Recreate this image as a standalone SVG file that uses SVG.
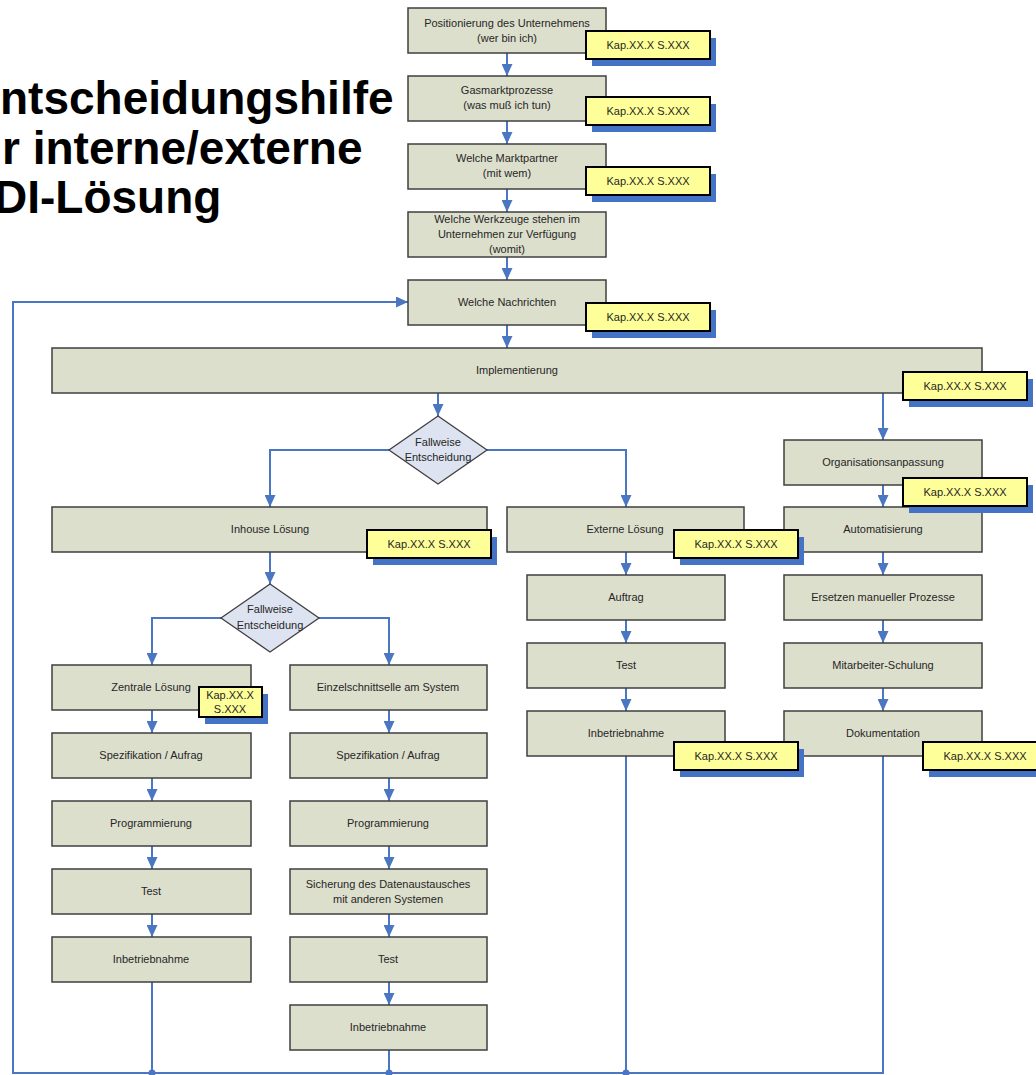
<svg xmlns="http://www.w3.org/2000/svg" width="1036" height="1075" viewBox="0 0 1036 1075">
  <style>
    .box { fill: #dddfcd; stroke: #3f3f3f; stroke-width: 1.5; }
    .dia { fill: #dde3f0; stroke: #3f3f3f; stroke-width: 1.3; }
    .t { font-family: "Liberation Sans", Arial, sans-serif; font-size: 11px; fill: #262626; text-anchor: middle; }
    .title { font-family: "Liberation Sans", Arial, sans-serif; font-size: 46px; font-weight: bold; fill: #000; }
    .note { fill: #ffff99; stroke: #000; stroke-width: 2; }
    .shadow { fill: #4472c4; }
    .wire { fill: none; stroke: #4a76c2; stroke-width: 2; }
    .dot { fill: #4a76c2; }
  </style>
  <defs>
    <marker id="arrow" markerUnits="userSpaceOnUse" markerWidth="12" markerHeight="11" refX="12" refY="5.5" orient="auto" viewBox="0 0 12 11">
      <path d="M0,0 L12,5.5 L0,11 z" fill="#4a76c2"/>
    </marker>
  </defs>
  <rect width="1036" height="1075" fill="#ffffff"/>

  <!-- heading, cut at the left page edge -->
  <g id="title">
    <text class="title" x="0" y="114">ntscheidungshilfe</text>
    <text class="title" x="2" y="164">r interne/externe</text>
    <text class="title" x="-6" y="213">DI-Lösung</text>
  </g>

  <!-- connectors -->
  <g id="connectors">
    <path class="wire" d="M507,53 V76" marker-end="url(#arrow)"/>
    <path class="wire" d="M507,121 V144" marker-end="url(#arrow)"/>
    <path class="wire" d="M507,189 V212" marker-end="url(#arrow)"/>
    <path class="wire" d="M507,257 V280" marker-end="url(#arrow)"/>
    <path class="wire" d="M507,325 V348" marker-end="url(#arrow)"/>
    <path class="wire" d="M438,393 V416" marker-end="url(#arrow)"/>
    <path class="wire" d="M389,450 H270 V507" marker-end="url(#arrow)"/>
    <path class="wire" d="M487,450 H626 V507" marker-end="url(#arrow)"/>
    <path class="wire" d="M883,393 V440" marker-end="url(#arrow)"/>
    <path class="wire" d="M883,485 V507" marker-end="url(#arrow)"/>
    <path class="wire" d="M270,552 V584" marker-end="url(#arrow)"/>
    <path class="wire" d="M221,618 H152 V665" marker-end="url(#arrow)"/>
    <path class="wire" d="M319,618 H389 V665" marker-end="url(#arrow)"/>
    <!-- inhouse / central -->
    <path class="wire" d="M152,710 V733" marker-end="url(#arrow)"/>
    <path class="wire" d="M152,778 V801" marker-end="url(#arrow)"/>
    <path class="wire" d="M152,846 V869" marker-end="url(#arrow)"/>
    <path class="wire" d="M152,914 V937" marker-end="url(#arrow)"/>
    <!-- inhouse / single interface -->
    <path class="wire" d="M389,710 V733" marker-end="url(#arrow)"/>
    <path class="wire" d="M389,778 V801" marker-end="url(#arrow)"/>
    <path class="wire" d="M389,846 V869" marker-end="url(#arrow)"/>
    <path class="wire" d="M389,914 V937" marker-end="url(#arrow)"/>
    <path class="wire" d="M389,982 V1005" marker-end="url(#arrow)"/>
    <!-- external -->
    <path class="wire" d="M626,552 V575" marker-end="url(#arrow)"/>
    <path class="wire" d="M626,620 V643" marker-end="url(#arrow)"/>
    <path class="wire" d="M626,688 V711" marker-end="url(#arrow)"/>
    <!-- organisation -->
    <path class="wire" d="M883,552 V575" marker-end="url(#arrow)"/>
    <path class="wire" d="M883,620 V643" marker-end="url(#arrow)"/>
    <path class="wire" d="M883,688 V711" marker-end="url(#arrow)"/>
    <!-- feedback loop back to "Welche Nachrichten" -->
    <path class="wire" d="M152,982 V1073"/>
    <path class="wire" d="M389,1050 V1073"/>
    <path class="wire" d="M626,756 V1073"/>
    <path class="wire" d="M883,756 V1073 H13 V302 H408" marker-end="url(#arrow)"/>
    <circle class="dot" cx="152" cy="1073" r="3.5"/>
    <circle class="dot" cx="389" cy="1073" r="3.5"/>
    <circle class="dot" cx="626" cy="1073" r="3.5"/>
  </g>

  <!-- main sequence -->
  <g id="n-positionierung">
    <rect class="box" x="408" y="8" width="198" height="45"/>
    <text class="t" x="507" y="27">Positionierung des Unternehmens</text>
    <text class="t" x="507" y="42">(wer bin ich)</text>
  </g>
  <g id="n-gasmarkt">
    <rect class="box" x="408" y="76" width="198" height="45"/>
    <text class="t" x="507" y="94">Gasmarktprozesse</text>
    <text class="t" x="507" y="109">(was muß ich tun)</text>
  </g>
  <g id="n-marktpartner">
    <rect class="box" x="408" y="144" width="198" height="45"/>
    <text class="t" x="507" y="162">Welche Marktpartner</text>
    <text class="t" x="507" y="177">(mit wem)</text>
  </g>
  <g id="n-werkzeuge">
    <rect class="box" x="408" y="212" width="198" height="45"/>
    <text class="t" x="507" y="223">Welche Werkzeuge stehen im</text>
    <text class="t" x="507" y="238">Unternehmen zur Verfügung</text>
    <text class="t" x="507" y="253">(womit)</text>
  </g>
  <g id="n-nachrichten">
    <rect class="box" x="408" y="280" width="198" height="45"/>
    <text class="t" x="507" y="306">Welche Nachrichten</text>
  </g>
  <g id="n-implementierung">
    <rect class="box" x="52" y="348" width="930" height="45"/>
    <text class="t" x="517" y="374">Implementierung</text>
  </g>
  <g id="d-fallweise-1">
    <polygon class="dia" points="438,416 487,450 438,484 389,450"/>
    <text class="t" x="438" y="446">Fallweise</text>
    <text class="t" x="438" y="461">Entscheidung</text>
  </g>

  <!-- inhouse branch -->
  <g id="n-inhouse">
    <rect class="box" x="52" y="507" width="435" height="45"/>
    <text class="t" x="270" y="533">Inhouse Lösung</text>
  </g>
  <g id="d-fallweise-2">
    <polygon class="dia" points="270,584 319,618 270,652 221,618"/>
    <text class="t" x="270" y="613">Fallweise</text>
    <text class="t" x="270" y="629">Entscheidung</text>
  </g>
  <g id="n-zentrale">
    <rect class="box" x="52" y="665" width="199" height="45"/>
    <text class="t" x="151" y="691">Zentrale Lösung</text>
  </g>
  <g id="n-z-spezifikation">
    <rect class="box" x="52" y="733" width="199" height="45"/>
    <text class="t" x="151" y="759">Spezifikation / Aufrag</text>
  </g>
  <g id="n-z-programmierung">
    <rect class="box" x="52" y="801" width="199" height="45"/>
    <text class="t" x="151" y="827">Programmierung</text>
  </g>
  <g id="n-z-test">
    <rect class="box" x="52" y="869" width="199" height="45"/>
    <text class="t" x="151" y="895">Test</text>
  </g>
  <g id="n-z-inbetriebnahme">
    <rect class="box" x="52" y="937" width="199" height="45"/>
    <text class="t" x="151" y="963">Inbetriebnahme</text>
  </g>
  <g id="n-einzelschnittstelle">
    <rect class="box" x="290" y="665" width="197" height="45"/>
    <text class="t" x="388" y="691">Einzelschnittselle am System</text>
  </g>
  <g id="n-e-spezifikation">
    <rect class="box" x="290" y="733" width="197" height="45"/>
    <text class="t" x="388" y="759">Spezifikation / Aufrag</text>
  </g>
  <g id="n-e-programmierung">
    <rect class="box" x="290" y="801" width="197" height="45"/>
    <text class="t" x="388" y="827">Programmierung</text>
  </g>
  <g id="n-e-sicherung">
    <rect class="box" x="290" y="869" width="197" height="45"/>
    <text class="t" x="388" y="888">Sicherung des Datenaustausches</text>
    <text class="t" x="388" y="903">mit anderen Systemen</text>
  </g>
  <g id="n-e-test">
    <rect class="box" x="290" y="937" width="197" height="45"/>
    <text class="t" x="388" y="963">Test</text>
  </g>
  <g id="n-e-inbetriebnahme">
    <rect class="box" x="290" y="1005" width="197" height="45"/>
    <text class="t" x="388" y="1031">Inbetriebnahme</text>
  </g>

  <!-- organisation branch -->
  <g id="n-organisation">
    <rect class="box" x="784" y="440" width="198" height="45"/>
    <text class="t" x="883" y="466">Organisationsanpassung</text>
  </g>
  <g id="n-automatisierung">
    <rect class="box" x="784" y="507" width="198" height="45"/>
    <text class="t" x="883" y="533">Automatisierung</text>
  </g>
  <g id="n-ersetzen">
    <rect class="box" x="784" y="575" width="198" height="45"/>
    <text class="t" x="883" y="601">Ersetzen manueller Prozesse</text>
  </g>
  <g id="n-schulung">
    <rect class="box" x="784" y="643" width="198" height="45"/>
    <text class="t" x="883" y="669">Mitarbeiter-Schulung</text>
  </g>
  <g id="n-dokumentation">
    <rect class="box" x="784" y="711" width="198" height="45"/>
    <text class="t" x="883" y="737">Dokumentation</text>
  </g>

  <!-- external branch -->
  <g id="n-extern">
    <rect class="box" x="507" y="507" width="237" height="45"/>
    <text class="t" x="625" y="533">Externe Lösung</text>
  </g>
  <g id="n-x-auftrag">
    <rect class="box" x="527" y="575" width="198" height="45"/>
    <text class="t" x="626" y="601">Auftrag</text>
  </g>
  <g id="n-x-test">
    <rect class="box" x="527" y="643" width="198" height="45"/>
    <text class="t" x="626" y="669">Test</text>
  </g>
  <g id="n-x-inbetriebnahme">
    <rect class="box" x="527" y="711" width="198" height="45"/>
    <text class="t" x="626" y="737">Inbetriebnahme</text>
  </g>

  <!-- chapter references -->
  <g id="notes">
    <g id="note-positionierung">
      <rect class="shadow" x="592" y="38" width="124" height="28"/>
      <rect class="note" x="586" y="31" width="124" height="28"/>
      <text class="t" x="648" y="49">Kap.XX.X S.XXX</text>
    </g>
    <g id="note-gasmarkt">
      <rect class="shadow" x="592" y="104" width="124" height="28"/>
      <rect class="note" x="586" y="97" width="124" height="28"/>
      <text class="t" x="648" y="115">Kap.XX.X S.XXX</text>
    </g>
    <g id="note-marktpartner">
      <rect class="shadow" x="592" y="174" width="124" height="28"/>
      <rect class="note" x="586" y="167" width="124" height="28"/>
      <text class="t" x="648" y="185">Kap.XX.X S.XXX</text>
    </g>
    <g id="note-nachrichten">
      <rect class="shadow" x="592" y="310" width="124" height="28"/>
      <rect class="note" x="586" y="303" width="124" height="28"/>
      <text class="t" x="648" y="321">Kap.XX.X S.XXX</text>
    </g>
    <g id="note-implementierung">
      <rect class="shadow" x="909" y="379" width="124" height="28"/>
      <rect class="note" x="903" y="372" width="124" height="28"/>
      <text class="t" x="965" y="390">Kap.XX.X S.XXX</text>
    </g>
    <g id="note-organisation">
      <rect class="shadow" x="909" y="485" width="124" height="28"/>
      <rect class="note" x="903" y="478" width="124" height="28"/>
      <text class="t" x="965" y="496">Kap.XX.X S.XXX</text>
    </g>
    <g id="note-inhouse">
      <rect class="shadow" x="373" y="537" width="124" height="28"/>
      <rect class="note" x="367" y="530" width="124" height="28"/>
      <text class="t" x="429" y="548">Kap.XX.X S.XXX</text>
    </g>
    <g id="note-extern">
      <rect class="shadow" x="680" y="537" width="124" height="28"/>
      <rect class="note" x="674" y="530" width="124" height="28"/>
      <text class="t" x="736" y="548">Kap.XX.X S.XXX</text>
    </g>
    <g id="note-zentrale">
      <rect class="shadow" x="205" y="694" width="63" height="30"/>
      <rect class="note" x="199" y="687" width="63" height="30"/>
      <text class="t" x="230" y="699">Kap.XX.X</text>
      <text class="t" x="230" y="713">S.XXX</text>
    </g>
    <g id="note-x-inbetriebnahme">
      <rect class="shadow" x="680" y="749" width="124" height="28"/>
      <rect class="note" x="674" y="742" width="124" height="28"/>
      <text class="t" x="736" y="760">Kap.XX.X S.XXX</text>
    </g>
    <g id="note-dokumentation">
      <rect class="shadow" x="929" y="749" width="124" height="28"/>
      <rect class="note" x="923" y="742" width="124" height="28"/>
      <text class="t" x="985" y="760">Kap.XX.X S.XXX</text>
    </g>
  </g>
</svg>
